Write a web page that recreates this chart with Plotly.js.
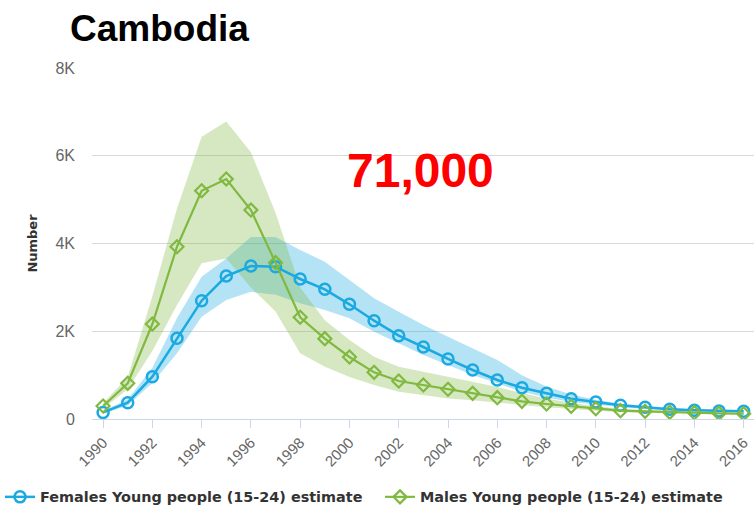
<!DOCTYPE html>
<html>
<head>
<meta charset="utf-8">
<script src="https://cdn.plot.ly/plotly-3.0.1.min.js"></script>
<style>html,body{margin:0;padding:0;background:#fff;}#chart{width:754px;height:507px;}</style>
</head>
<body>
<div id="chart"></div>
<script>
const years = [1990,1991,1992,1993,1994,1995,1996,1997,1998,1999,2000,2001,2002,2003,2004,2005,2006,2007,2008,2009,2010,2011,2012,2013,2014,2015,2016];
const female = [150,372,964,1840,2697,3259,3487,3472,3191,2956,2614,2241,1899,1641,1368,1117,889,714,585,463,387,311,266,220,197,182,175];
const femaleUpper = [180,450,1170,2300,3240,3660,4150,4150,3852,3585,3168,2751,2446,2142,1876,1611,1345,1000,740,560,440,350,295,245,220,200,190];
const femaleLower = [120,310,820,1500,2330,2710,2900,2830,2640,2484,2295,1990,1725,1459,1231,1003,813,620,490,390,330,270,235,195,175,165,160];
const male = [296,813,2165,3927,5203,5470,4763,3563,2318,1831,1413,1064,866,775,677,585,486,403,342,289,235,190,175,152,144,129,121];
const maleUpper = [360,960,2800,4800,6433,6780,6080,4700,3000,2250,1800,1420,1190,1080,960,850,730,590,470,370,290,235,205,175,160,145,135];
const maleLower = [240,680,1550,2600,3550,3660,3000,2450,1500,1190,960,775,620,545,470,430,380,320,270,225,190,155,140,125,118,108,100];
const yTickVals = [0,2000,4000,6000,8000];
const yTickText = ['0','2K','4K','6K','8K'];
const femaleName = 'Females Young people (15-24) estimate';
const maleName = 'Males Young people (15-24) estimate';

const blue = '#1ba9e1';
const green = '#80b940';
const rev = a => a.slice().reverse();

const traces = [
  {x: years.concat(rev(years)), y: femaleUpper.concat(rev(femaleLower)), type:'scatter', mode:'lines', fill:'toself',
   fillcolor:'rgba(27,169,225,0.33)', line:{width:0, color:'rgba(0,0,0,0)'}, showlegend:false, hoverinfo:'skip'},
  {x: years.concat(rev(years)), y: maleUpper.concat(rev(maleLower)), type:'scatter', mode:'lines', fill:'toself',
   fillcolor:'rgba(128,185,64,0.32)', line:{width:0, color:'rgba(0,0,0,0)'}, showlegend:false, hoverinfo:'skip'},
  {x: years, y: female, name: femaleName, type:'scatter', mode:'lines+markers', legend:'legend',
   line:{color:blue, width:2.5}, marker:{symbol:'circle-open', size:11, color:blue, line:{width:2.5, color:blue}}},
  {x: years, y: male, name: maleName, type:'scatter', mode:'lines+markers', legend:'legend2',
   line:{color:green, width:2.2}, marker:{symbol:'diamond-open', size:10, color:green, line:{width:2.2, color:green}}}
];

const legendFont = {family:'DejaVu Sans, Verdana', size:14.4, color:'#333', weight:'bold'};

const layout = {
  width:754, height:507,
  margin:{l:92, r:0, t:68, b:88, pad:0},
  paper_bgcolor:'#fff', plot_bgcolor:'#fff',
  title:{text:'<b>Cambodia</b>', x:70/754, xanchor:'left', xref:'container', y:1-28/507, yanchor:'middle', yref:'container',
         font:{family:'Liberation Sans, Arial', size:37, color:'#000'}},
  xaxis:{range:[1989.55, 2016.42], tickmode:'linear', tick0:1990, dtick:2, tickangle:-45,
         showgrid:false, zeroline:false, showline:true, linecolor:'#ccd6eb', linewidth:1,
         ticks:'outside', ticklen:8, tickcolor:'#ccd6eb',
         tickfont:{family:'Liberation Sans, Arial', size:15, color:'#666'}},
  yaxis:{range:[0,8000], tickvals:yTickVals, ticktext:yTickText, showgrid:true, gridcolor:'#d9d9d9', gridwidth:1,
         zeroline:false, showline:false, ticks:'', ticklabelstandoff:16,
         tickfont:{family:'Liberation Sans, Arial', size:16, color:'#666'},
         title:{text:'Number', standoff:14, font:{family:'DejaVu Sans, Verdana', size:13, color:'#333', weight:'bold'}}},
  showlegend:true,
  legend:{orientation:'h', x:0, xref:'container', xanchor:'left', y:10/507, yref:'container', yanchor:'middle',
          font:legendFont, bgcolor:'rgba(0,0,0,0)'},
  legend2:{orientation:'h', x:380/754, xref:'container', xanchor:'left', y:10/507, yref:'container', yanchor:'middle',
          font:legendFont, bgcolor:'rgba(0,0,0,0)'},
  annotations:[
    {text:'<b>71,000</b>', xref:'paper', yref:'paper', x:(420-92)/662, y:(419-170)/351, xanchor:'center', yanchor:'middle',
     showarrow:false, font:{family:'Liberation Sans, Arial', size:48, color:'#ff0000'}}
  ]
};

Plotly.newPlot('chart', traces, layout, {displayModeBar:false, staticPlot:true});
</script>
</body>
</html>
